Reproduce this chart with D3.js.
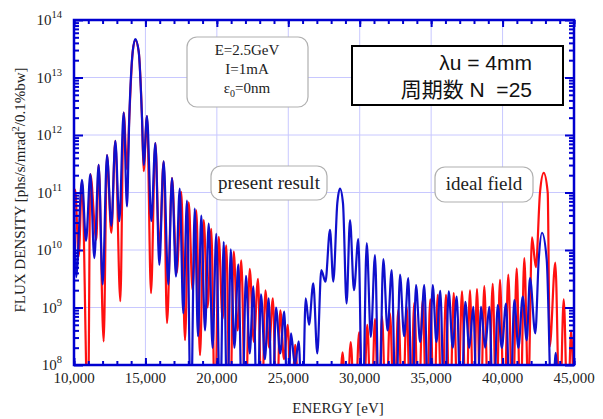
<!DOCTYPE html>
<html><head><meta charset="utf-8">
<script src="https://cdn.jsdelivr.net/npm/d3@7/dist/d3.min.js"></script>
<style>body{margin:0;background:#fff}svg{display:block}</style>
</head><body>
<svg id="c" width="603" height="419"></svg>
<script>
// ---- data (flux given as log10 values) ----
const xTicks = [10000,15000,20000,25000,30000,35000,40000,45000];
const yDecades = [8,9,10,11,12,13,14];
const blueE = [10000,10150,10560,10840,11143,11423,11726,12006,12310,12613,12893,13173,13476,13710,13870,14110,14293,14530,14760,14876,15110,15413,15693,15973,16276,16600,16860,17140,17400,17650,17910,18180,18450,18680,18910,19170,19430,19700,19960,20220,20480,20730,20970,21230,21500,21770,22040,22300,22553,22820,23090,23360,23627,23880,24140,24430,24720,24955,25190,25460,25730,25975,26220,26450,26750,27030,27310,27600,27920,28150,28430,28620,28830,29080,29320,29600,29900,30200,30490,30780,31070,31360,31650,31950,32240,32530,32820,33110,33400,33670,33940,34230,34520,34810,35110,35370,35640,35930,36230,36510,36790,37090,37390,37670,37950,38220,38490,38780,39070,39360,39660,39950,40240,40530,40820,41110,41410,41690,41920,42290,42530,42760,43090,43460,43720,43970,45000];
const blueLog = [11.00,9.53,11.22,10.16,11.32,9.86,11.48,9.40,11.65,10.42,11.90,10.50,12.39,10.76,12.30,13.45,13.67,13.45,12.30,11.48,12.33,10.50,11.86,9.74,11.54,9.40,11.25,9.54,11.07,8.90,10.86,7.00,10.72,8.50,10.60,8.60,10.46,8.30,10.28,7.00,10.14,7.00,10.01,8.30,9.75,7.00,9.55,8.20,9.37,7.00,9.23,8.10,9.16,7.00,9.00,8.20,8.93,7.00,8.55,8.00,8.41,7.00,9.16,8.70,9.42,8.20,9.65,9.45,10.35,9.45,10.81,11.07,10.81,9.07,10.52,9.30,10.19,7.00,10.12,8.49,9.91,7.00,9.84,8.60,9.65,7.00,9.57,8.50,9.51,7.00,9.39,8.40,9.39,7.00,9.39,8.40,9.29,7.00,9.28,8.30,9.19,7.00,9.10,8.30,9.01,7.00,9.01,8.30,9.01,7.00,9.04,8.30,9.07,7.00,9.13,8.30,9.19,8.43,9.51,8.55,9.83,10.30,9.83,7.00,8.21,7.00,7.00];
const redE = [10000,10080,10330,10560,10980,11143,11563,11726,12076,12310,12613,12893,13243,13476,13720,13870,14110,14293,14530,14760,14876,15110,15390,15693,15973,16276,16510,16860,17190,17510,17770,18030,18300,18560,18820,19080,19350,19610,19870,20130,20400,20660,20920,21180,21450,21710,22000,22300,22590,22880,23140,23400,23660,23920,24180,24440,24700,24960,25220,25480,25740,26000,26300,27500,28500,28800,29080,29370,29660,29960,30250,30530,30800,31070,31320,31560,31840,32120,32410,32700,33000,33290,33550,33820,34110,34410,34680,34940,35200,35460,35750,36040,36310,36580,36870,37160,37440,37720,37965,38210,38460,38720,39010,39310,39560,39820,40110,40400,40700,40990,41250,41520,41800,42060,42330,42620,42880,43160,43300,43690,44000,44280,44560,44800,45000];
const redLog = [10.90,11.05,9.89,11.20,7.00,11.32,10.18,11.48,8.41,11.65,10.30,11.90,9.11,12.39,11.40,12.30,13.45,13.65,13.45,12.30,11.37,12.33,9.25,11.86,10.00,11.54,8.73,11.25,9.60,11.01,8.43,10.83,9.30,10.69,8.17,10.52,9.00,10.37,7.00,10.23,8.80,10.08,7.00,9.97,8.60,9.82,7.00,9.67,8.40,9.50,7.00,9.30,8.30,9.16,7.00,8.95,8.10,8.70,7.00,8.35,7.50,7.90,7.00,7.00,7.00,8.22,7.00,8.40,7.00,8.57,7.00,8.70,7.00,8.80,7.00,8.84,7.00,8.90,7.00,8.96,7.00,9.01,7.00,9.08,7.00,9.13,7.00,9.14,7.00,9.22,7.00,9.22,7.00,9.25,7.00,9.28,7.00,9.30,7.00,9.32,7.00,9.37,7.00,9.41,7.00,9.48,7.00,9.57,7.00,9.68,7.00,9.86,7.50,10.22,9.70,11.00,11.34,11.00,8.32,9.78,7.00,9.14,7.00,8.60,7.00];

const svg = d3.select("#c");
const L=74,R=574,T=20,B=365;
const x = d3.scaleLinear().domain([10000,45000]).range([L,R]);
const y = d3.scaleLog().domain([1e8,1e14]).range([B,T]);
const AX = "#0000d0", SERIF="'Liberation Serif','Times New Roman',serif";

svg.append("defs").append("clipPath").attr("id","clip")
  .append("rect").attr("x",L).attr("y",T).attr("width",R-L).attr("height",B-T);

// grid
const grid = svg.append("g").attr("stroke","#c8c8ff").attr("stroke-width",1);
grid.selectAll("line.gx").data(xTicks.slice(1,-1)).join("line")
  .attr("x1",d=>x(d)).attr("x2",d=>x(d)).attr("y1",T).attr("y2",B);
grid.selectAll("line.gy").data(yDecades.slice(1,-1)).join("line")
  .attr("x1",L).attr("x2",R).attr("y1",d=>y(10**d)).attr("y2",d=>y(10**d));

// curves
const line = d3.line().x(d=>x(d[0])).y(d=>y(10**d[1])).curve(d3.curveMonotoneX);
const curves = svg.append("g").attr("clip-path","url(#clip)").attr("fill","none").attr("stroke-width",2.2);
curves.append("path").attr("d",line(redE.map((e,i)=>[e,redLog[i]]))).attr("stroke","#ff1010");
curves.append("path").attr("d",line(blueE.map((e,i)=>[e,blueLog[i]]))).attr("stroke","#1010cc");

// axes (inward ticks)
const minorX = d3.range(10000,45001,1000);
const minorY = [];
yDecades.slice(0,-1).forEach(d=>{for(let k=2;k<10;k++) minorY.push(k*10**d);});
function styleAxis(g){g.select(".domain").remove();g.selectAll("line").attr("stroke",AX).attr("stroke-width",2);}
svg.append("g").attr("transform",`translate(0,${B})`).call(d3.axisBottom(x).tickValues(minorX).tickFormat("").tickSize(-4)).call(styleAxis);
svg.append("g").attr("transform",`translate(0,${T})`).call(d3.axisTop(x).tickValues(minorX).tickFormat("").tickSize(-4)).call(styleAxis);
svg.append("g").attr("transform",`translate(0,${B})`).call(d3.axisBottom(x).tickValues(xTicks).tickFormat("").tickSize(-7)).call(styleAxis);
svg.append("g").attr("transform",`translate(0,${T})`).call(d3.axisTop(x).tickValues(xTicks).tickFormat("").tickSize(-7)).call(styleAxis);
svg.append("g").attr("transform",`translate(${L},0)`).call(d3.axisLeft(y).tickValues(minorY).tickFormat("").tickSize(-5)).call(styleAxis);
svg.append("g").attr("transform",`translate(${R},0)`).call(d3.axisRight(y).tickValues(minorY).tickFormat("").tickSize(-5)).call(styleAxis);
svg.append("g").attr("transform",`translate(${L},0)`).call(d3.axisLeft(y).tickValues(yDecades.map(d=>10**d)).tickFormat("").tickSize(-9)).call(styleAxis);
svg.append("g").attr("transform",`translate(${R},0)`).call(d3.axisRight(y).tickValues(yDecades.map(d=>10**d)).tickFormat("").tickSize(-9)).call(styleAxis);

// frame
svg.append("rect").attr("x",L).attr("y",T).attr("width",R-L).attr("height",B-T)
  .attr("fill","none").attr("stroke",AX).attr("stroke-width",2.5);

// tick labels
svg.append("g").selectAll("text").data(xTicks).join("text")
  .attr("x",d=>x(d)).attr("y",383).attr("text-anchor","middle")
  .attr("font-family",SERIF).attr("font-size",15).attr("fill","#222").text(d3.format(","));
const yl = svg.append("g").selectAll("text").data(yDecades).join("text")
  .attr("x",62).attr("y",d=>y(10**d)+5).attr("text-anchor","end")
  .attr("font-family",SERIF).attr("font-size",15).attr("fill","#222");
yl.append("tspan").text("10");
yl.append("tspan").attr("dy",-7).attr("font-size",10.5).text(d=>d);

// axis titles
svg.append("text").attr("transform","translate(25,190) rotate(-90)").attr("text-anchor","middle")
  .attr("font-family",SERIF).attr("font-size",15).attr("fill","#222")
  .call(t=>{t.append("tspan").text("FLUX DENSITY [phs/s/mrad");
            t.append("tspan").attr("dy",-6).attr("font-size",10.5).text("2");
            t.append("tspan").attr("dy",6).text("/0.1%bw]");});
svg.append("text").attr("x",338).attr("y",413).attr("text-anchor","middle")
  .attr("font-family",SERIF).attr("font-size",15).attr("fill","#222").text("ENERGY [eV]");

// annotation boxes
function rbox(x0,y0,w,h){svg.append("rect").attr("x",x0).attr("y",y0).attr("width",w).attr("height",h)
  .attr("rx",10).attr("fill","#fff").attr("stroke","#b0b0b0").attr("stroke-width",1.2);}
rbox(187,37,121,70);
const pt = svg.append("g").attr("font-family",SERIF).attr("font-size",15).attr("fill","#222").attr("text-anchor","middle");
pt.append("text").attr("x",247).attr("y",55).text("E=2.5GeV");
pt.append("text").attr("x",247).attr("y",74).text("I=1mA");
pt.append("text").attr("x",247).attr("y",93).call(t=>{
  t.append("tspan").text("ε");
  t.append("tspan").attr("dy",4).attr("font-size",10).text("0");
  t.append("tspan").attr("dy",-4).text("=0nm");});
rbox(211,166,116,34);
svg.append("text").attr("x",269).attr("y",189).attr("text-anchor","middle")
  .attr("font-family",SERIF).attr("font-size",19).attr("fill","#222").text("present result");
rbox(435,167,98,35);
svg.append("text").attr("x",484).attr("y",190).attr("text-anchor","middle")
  .attr("font-family",SERIF).attr("font-size",19).attr("fill","#222").text("ideal field");

svg.append("rect").attr("x",352).attr("y",46).attr("width",211).attr("height",59)
  .attr("fill","#fff").attr("stroke","#000").attr("stroke-width",2);
const sans = "'Liberation Sans','Noto Sans CJK JP',Arial,sans-serif";
svg.append("text").attr("x",532).attr("y",70).attr("text-anchor","end")
  .attr("font-family",sans).attr("font-size",21).attr("fill","#111").text("λu = 4mm");
svg.append("text").attr("x",532).attr("y",97).attr("text-anchor","end")
  .attr("font-family",sans).attr("font-size",21).attr("fill","#111").attr("xml:space","preserve").text("周期数 N  =25");
</script>
</body></html>
